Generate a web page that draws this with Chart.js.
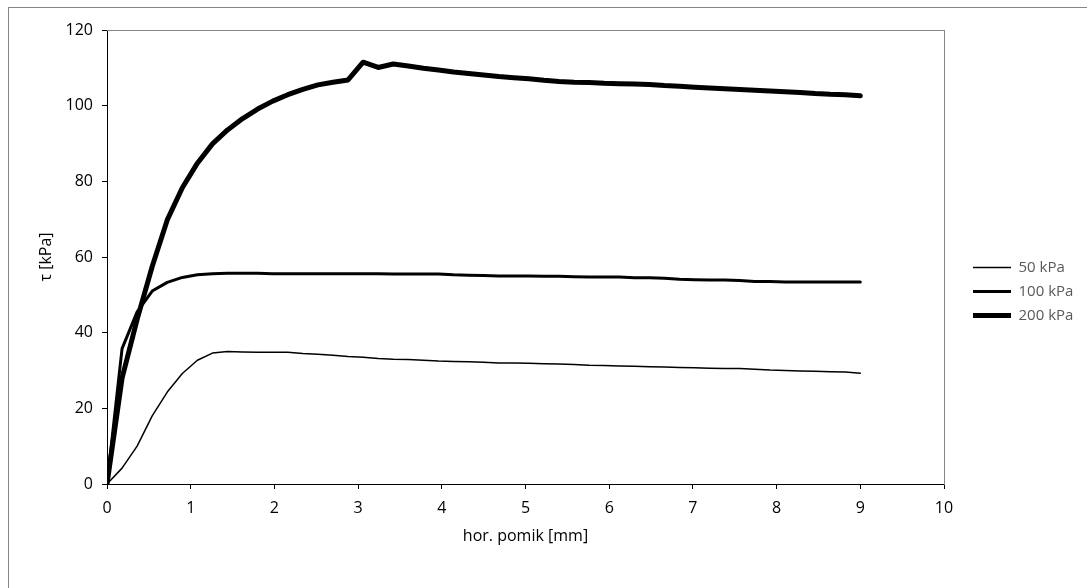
<!DOCTYPE html>
<html>
<head>
<meta charset="utf-8">
<script src="https://cdn.jsdelivr.net/npm/chart.js@4"></script>
<style>
  html, body { margin: 0; padding: 0; background: #fff; overflow: hidden; }
  #frame {
    position: absolute; left: 8px; top: 7px; width: 1079px; height: 581px;
    border-left: 1px solid #868686; border-top: 1px solid #868686;
  }
  #wrap { position: relative; width: 1069px; height: 571px; }
</style>
</head>
<body>
<div id="frame"><div id="wrap"><canvas id="graph"></canvas></div></div>
<script>
// hor. pomik [mm]
const pomik = [0, 0.18, 0.36, 0.54, 0.72, 0.90, 1.08, 1.26, 1.44, 1.62, 1.80, 1.98, 2.16, 2.34, 2.52, 2.70, 2.88,
  3.06, 3.24, 3.42, 3.60, 3.78, 3.96, 4.14, 4.32, 4.50, 4.68, 4.86, 5.04, 5.22, 5.40, 5.58, 5.76, 5.94,
  6.12, 6.30, 6.48, 6.66, 6.84, 7.02, 7.20, 7.38, 7.56, 7.74, 7.92, 8.10, 8.28, 8.46, 8.64, 8.82, 9.00]

// tau [kPa]
const tau50 = [0, 4.2, 10, 18, 24.3, 29.2, 32.7, 34.6, 35, 34.9, 34.8, 34.8, 34.8, 34.5, 34.3, 34.0, 33.7,
  33.5, 33.2, 33.0, 32.9, 32.7, 32.5, 32.4, 32.3, 32.2, 32.0, 32.0, 31.9, 31.8, 31.7, 31.6, 31.4, 31.3,
  31.2, 31.1, 31.0, 30.9, 30.8, 30.7, 30.6, 30.5, 30.5, 30.3, 30.1, 30.0, 29.9, 29.8, 29.7, 29.6, 29.3]

const tau100 = [0, 35.8, 45.5, 51, 53.3, 54.6, 55.3, 55.6, 55.7, 55.7, 55.7, 55.6, 55.6, 55.6, 55.6, 55.6, 55.6,
  55.6, 55.6, 55.5, 55.5, 55.5, 55.5, 55.3, 55.2, 55.1, 55.0, 55.0, 55.0, 54.9, 54.9, 54.8, 54.7, 54.7,
  54.7, 54.5, 54.5, 54.4, 54.1, 54.0, 53.9, 53.9, 53.8, 53.5, 53.5, 53.4, 53.4, 53.4, 53.4, 53.4, 53.4]

const tau200 = [0, 28, 43.5, 57.5, 69.8, 78.3, 84.8, 89.9, 93.6, 96.6, 99.1, 101.2, 102.9, 104.3, 105.5, 106.2, 106.8,
  111.5, 110.1, 111.0, 110.5, 109.9, 109.4, 108.9, 108.5, 108.1, 107.7, 107.4, 107.1, 106.7, 106.4, 106.2, 106.1, 105.9,
  105.8, 105.7, 105.6, 105.3, 105.1, 104.9, 104.7, 104.5, 104.3, 104.1, 103.9, 103.7, 103.5, 103.2, 103.0, 102.9, 102.6]

const serije = ['50 kPa', '100 kPa', '200 kPa']
const debeline = [1.5, 3, 5]

function tocke(vals) {
  return pomik.map((x, i) => ({x: x, y: vals[i]}))
}

const fontOs = {family: 'Open Sans', size: 16}
const fontLeg = {family: 'Open Sans', size: 15}

// legenda: premik na mesto kot v originalu
const premikLegende = {
  id: 'premikLegende',
  afterLayout(chart) {
    const lg = chart.legend
    const dx = 964 - lg.options.labels.padding - chart.legend.left
    lg.top -= 13; lg.bottom -= 13
    lg.left += dx; lg.right += dx
  }
}

const ctx = document.getElementById('graph').getContext('2d')
const chart = new Chart(ctx, {
  type: 'line',
  data: {
    datasets: [tau50, tau100, tau200].map((v, i) => ({
      label: serije[i],
      data: tocke(v),
      borderColor: '#000',
      backgroundColor: '#000',
      borderWidth: debeline[i],
      pointRadius: 0,
      borderCapStyle: 'round',
      borderJoinStyle: 'round',
      tension: 0
    }))
  },
  options: {
    responsive: true,
    maintainAspectRatio: false,
    animation: false,
    layout: { padding: { left: 0, top: 22, right: 0, bottom: 0 } },
    plugins: {
      tooltip: { enabled: false },
      legend: {
        position: 'right',
        labels: {
          usePointStyle: true,
          pointStyle: 'line',
          pointStyleWidth: 38,
          padding: 9,
          color: '#595959',
          font: fontLeg
        }
      }
    },
    scales: {
      x: {
        type: 'linear',
        min: 0, max: 10,
        ticks: { stepSize: 1, color: '#000', font: fontOs, padding: 10 },
        grid: { drawOnChartArea: false, color: '#000', tickLength: 5 },
        border: { color: '#000', width: 1 },
        title: { display: true, text: 'hor. pomik [mm]', color: '#000', font: fontOs, padding: { top: 0, bottom: 33 } },
        afterFit: s => { s.height = 95 }
      },
      y: {
        min: 0, max: 120,
        ticks: { stepSize: 20, color: '#000', font: fontOs, padding: 9 },
        grid: { drawOnChartArea: false, color: '#000', tickLength: 5 },
        border: { color: '#000', width: 1 },
        title: { display: true, text: 'τ [kPa]', color: '#000', font: fontOs, padding: { top: 28, bottom: 0 } },
        afterFit: s => { s.width = 98 }
      },
      x2: {
        position: 'top',
        ticks: { display: false },
        grid: { display: false, drawTicks: false },
        border: { color: '#868686', width: 1 },
        afterFit: s => { s.height = 0 }
      },
      y2: {
        position: 'right',
        ticks: { display: false },
        grid: { display: false, drawTicks: false },
        border: { color: '#868686', width: 1 },
        afterFit: s => { s.width = 1069 - 935 - s.chart.legend.width }
      }
    }
  },
  plugins: [premikLegende]
})
</script>
</body>
</html>
